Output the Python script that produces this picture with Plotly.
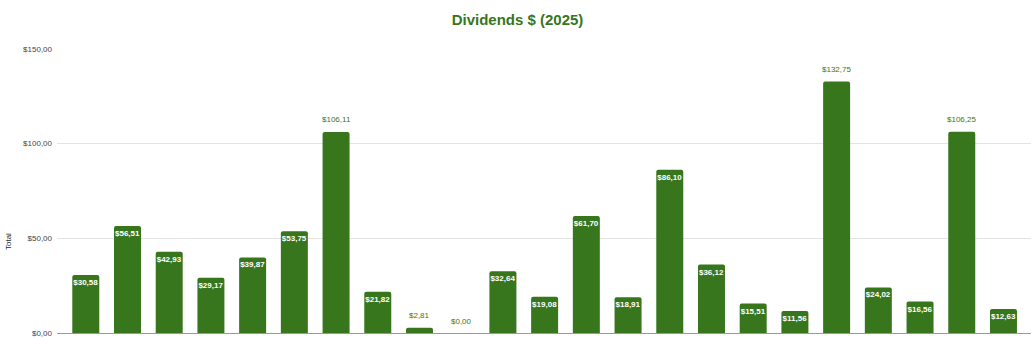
import plotly.graph_objects as go

# Data
payments = [f"#{i}" for i in range(1, 24)]
values = [30.58, 56.51, 42.93, 29.17, 39.87, 53.75, 106.11, 21.82, 2.81, 0.00,
          32.64, 19.08, 61.70, 18.91, 86.10, 36.12, 15.51, 11.56, 132.75, 24.02,
          16.56, 106.25, 12.63]
outside_idx = [6, 8, 9, 18, 21]
y_ticks = [0, 50, 100, 150]

GREEN = "#38761d"
FONT = "Arial, Liberation Sans, sans-serif"


def fmt(v):
    return "$" + f"{v:.2f}".replace(".", ",")


labels = [fmt(v) for v in values]
inside_text = ["" if i in outside_idx else labels[i] for i in range(len(values))]

fig = go.Figure()
fig.add_trace(go.Bar(
    x=payments,
    y=values,
    marker=dict(color=GREEN, cornerradius=2, line=dict(width=0)),
    text=inside_text,
    textposition="inside",
    insidetextanchor="end",
    textangle=0,
    insidetextfont=dict(family=FONT, size=8, color="white", weight="bold"),
    cliponaxis=False,
    hoverinfo="skip",
))

for i in outside_idx:
    fig.add_annotation(
        x=payments[i], y=values[i], xref="x", yref="y",
        text=labels[i], showarrow=False,
        yanchor="middle", yshift=12,
        font=dict(family=FONT, size=8, color=GREEN),
    )

# y-axis title
fig.add_annotation(
    xref="paper", yref="paper", x=0, y=(333 - 242) / 285,
    xshift=-49, text="Total", textangle=-90, showarrow=False,
    xanchor="center", yanchor="middle",
    font=dict(family=FONT, size=8, color="#222222"),
)

fig.update_layout(
    width=1035, height=338,
    margin=dict(l=57, r=4, t=48, b=5, autoexpand=False),
    paper_bgcolor="white", plot_bgcolor="white",
    bargap=0.353,
    showlegend=False,
    uniformtext=dict(minsize=8, mode="show"),
    title=dict(
        text="<b>Dividends $ (2025)</b>",
        x=0.5, xanchor="center", xref="container",
        y=1 - 20 / 338, yanchor="middle", yref="container",
        font=dict(family=FONT, size=15, color=GREEN),
    ),
    font=dict(family=FONT, size=8, color="#444444"),
)

fig.update_xaxes(
    type="category",
    range=[-0.69, 22.66],
    showticklabels=False, ticks="",
    showgrid=False, zeroline=False,
    showline=True, linecolor="#999999", linewidth=1,
    automargin=False,
)
fig.update_yaxes(
    range=[-0.001, 150.4],
    tickmode="array",
    tickvals=y_ticks,
    ticktext=[fmt(v) for v in y_ticks],
    tickfont=dict(family=FONT, size=8, color="#444444"),
    ticklabeloverflow="allow",
    showgrid=True, gridcolor="#e3e3e3", gridwidth=1,
    zeroline=False, showline=False, ticks="",
    ticklabelstandoff=4,
    automargin=False,
)

fig.write_html("out.html")
